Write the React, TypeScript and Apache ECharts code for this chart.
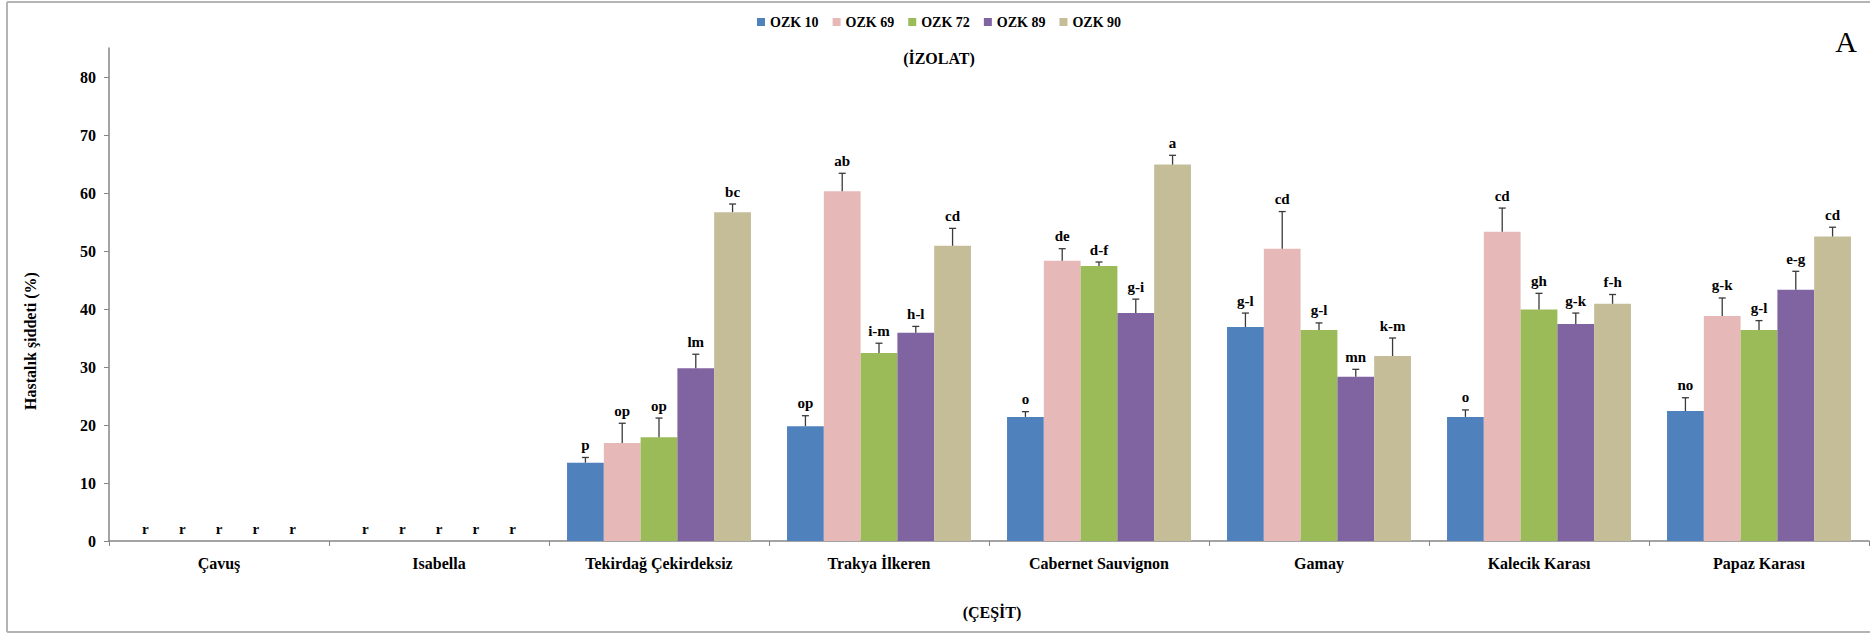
import React, { useEffect, useRef } from "react";
import * as echarts from "echarts";

const FONT = "'Liberation Serif', 'Times New Roman', serif";

const categories = [
  "Çavuş",
  "Isabella",
  "Tekirdağ Çekirdeksiz",
  "Trakya İlkeren",
  "Cabernet Sauvignon",
  "Gamay",
  "Kalecik Karası",
  "Papaz Karası",
];

const seriesNames = ["OZK 10", "OZK 69", "OZK 72", "OZK 89", "OZK 90"];
const colors = ["#4F81BD", "#E6B9B8", "#9BBB59", "#8064A2", "#C4BD97"];

const ozk10 = [0, 0, 13.5, 19.8, 21.4, 36.9, 21.4, 22.4];
const ozk69 = [0, 0, 16.9, 60.3, 48.3, 50.4, 53.3, 38.8];
const ozk72 = [0, 0, 17.9, 32.4, 47.4, 36.4, 39.9, 36.4];
const ozk89 = [0, 0, 29.8, 35.9, 39.3, 28.3, 37.4, 43.3];
const ozk90 = [0, 0, 56.7, 50.9, 64.9, 31.9, 40.9, 52.5];

const err10 = [0, 0, 0.9, 1.8, 0.9, 2.4, 1.2, 2.3];
const err69 = [0, 0, 3.4, 3.1, 2.1, 6.4, 4.1, 3.1];
const err72 = [0, 0, 3.3, 1.7, 0.7, 1.2, 2.8, 1.6];
const err89 = [0, 0, 2.4, 1.1, 2.4, 1.3, 1.9, 3.2];
const err90 = [0, 0, 1.4, 3.0, 1.6, 3.1, 1.6, 1.6];

const lab10 = ["r", "r", "p", "op", "o", "g-l", "o", "no"];
const lab69 = ["r", "r", "op", "ab", "de", "cd", "cd", "g-k"];
const lab72 = ["r", "r", "op", "i-m", "d-f", "g-l", "gh", "g-l"];
const lab89 = ["r", "r", "lm", "h-l", "g-i", "mn", "g-k", "e-g"];
const lab90 = ["r", "r", "bc", "cd", "a", "k-m", "f-h", "cd"];

const yTicks = [0, 10, 20, 30, 40, 50, 60, 70, 80];

const values = [ozk10, ozk69, ozk72, ozk89, ozk90];
const errors = [err10, err69, err72, err89, err90];
const labels = [lab10, lab69, lab72, lab89, lab90];

const CAT_GAP = 0.164;

export default function App() {
  const ref = useRef<HTMLDivElement>(null);

  useEffect(() => {
    document.body.style.margin = "0";
    if (!ref.current) return;
    const chart = echarts.init(ref.current, null, { renderer: "svg" });

    const customData: number[][] = [];
    const customLabels: string[] = [];
    values.forEach((vals, s) => {
      vals.forEach((v, c) => {
        customData.push([c, s, v, errors[s][c]]);
        customLabels.push(labels[s][c]);
      });
    });

    const barSeries = seriesNames.map((name, i) => ({
      name,
      type: "bar",
      data: values[i],
      barGap: "0%",
      barCategoryGap: CAT_GAP * 100 + "%",
      itemStyle: { color: colors[i] },
      z: 2,
    }));

    const borderStyle = { stroke: "#b4b4b4", lineWidth: 2 };

    const option: any = {
      animation: false,
      backgroundColor: "#ffffff",
      textStyle: { fontFamily: FONT },
      legend: {
        data: seriesNames,
        left: 757,
        top: 15,
        padding: 0,
        itemWidth: 8,
        itemHeight: 8,
        itemGap: 14,
        icon: "rect",
        textStyle: { fontFamily: FONT, fontWeight: "bold", fontSize: 14, color: "#000" },
      },
      grid: { left: 109, right: 1, top: 48, bottom: 94, containLabel: false },
      xAxis: {
        type: "category",
        data: categories,
        axisLine: { lineStyle: { color: "#868686", width: 1.5 } },
        axisTick: { show: true, length: 5, lineStyle: { color: "#868686" } },
        axisLabel: {
          interval: 0,
          margin: 14,
          fontFamily: FONT,
          fontWeight: "bold",
          fontSize: 16,
          color: "#000",
        },
      },
      yAxis: {
        type: "value",
        min: 0,
        max: 85,
        interval: 10,
        splitLine: { show: false },
        axisLine: { show: true, lineStyle: { color: "#868686", width: 1.5 } },
        axisTick: { show: true, length: 5, customValues: yTicks, lineStyle: { color: "#868686" } },
        axisLabel: {
          customValues: yTicks,
          margin: 13,
          fontFamily: FONT,
          fontWeight: "bold",
          fontSize: 16,
          color: "#000",
        },
      },
      graphic: [
        { type: "line", shape: { x1: 7, y1: 2, x2: 1870, y2: 2 }, style: borderStyle, silent: true },
        { type: "line", shape: { x1: 7, y1: 2, x2: 7, y2: 632 }, style: borderStyle, silent: true },
        { type: "line", shape: { x1: 7, y1: 632, x2: 1870, y2: 632 }, style: borderStyle, silent: true },
        {
          type: "text",
          x: 30,
          y: 341,
          rotation: Math.PI / 2,
          style: {
            text: "Hastalık şiddeti (%)",
            font: `bold 16px ${FONT}`,
            fill: "#000",
            textAlign: "center",
            textVerticalAlign: "middle",
          },
        },
        {
          type: "text",
          x: 939,
          y: 58,
          style: {
            text: "(İZOLAT)",
            font: `bold 16px ${FONT}`,
            fill: "#000",
            textAlign: "center",
            textVerticalAlign: "middle",
          },
        },
        {
          type: "text",
          x: 992,
          y: 612,
          style: {
            text: "(ÇEŞİT)",
            font: `bold 16px ${FONT}`,
            fill: "#000",
            textAlign: "center",
            textVerticalAlign: "middle",
          },
        },
        {
          type: "text",
          x: 1846,
          y: 41,
          style: {
            text: "A",
            font: `30px ${FONT}`,
            fill: "#000",
            textAlign: "center",
            textVerticalAlign: "middle",
          },
        },
      ],
      series: [
        ...barSeries,
        {
          type: "custom",
          name: "errors",
          data: customData,
          encode: { x: 0, y: 2 },
          z: 5,
          clip: false,
          renderItem: (params: any, api: any) => {
            const c = api.value(0);
            const s = api.value(1);
            const v = api.value(2);
            const e = api.value(3);
            const base = api.coord([c, 0]);
            const bandW = api.size([1, 0])[0];
            const barW = (bandW * (1 - CAT_GAP)) / seriesNames.length;
            const x = base[0] + (s - (seriesNames.length - 1) / 2) * barW;
            const yv = api.coord([c, v])[1];
            const yt = api.coord([c, v + e])[1];
            const children: any[] = [];
            if (e > 0) {
              children.push({
                type: "line",
                shape: { x1: x, y1: yv, x2: x, y2: yt },
                style: { stroke: "#3a3a3a", lineWidth: 1.3 },
              });
              children.push({
                type: "line",
                shape: { x1: x - 3.5, y1: yt, x2: x + 3.5, y2: yt },
                style: { stroke: "#3a3a3a", lineWidth: 1.3 },
              });
            }
            children.push({
              type: "text",
              x: x,
              y: yt - 5,
              style: {
                text: customLabels[params.dataIndex],
                font: `bold 15px ${FONT}`,
                fill: "#000",
                textAlign: "center",
                textVerticalAlign: "bottom",
              },
            });
            return { type: "group", children };
          },
        },
      ],
    };

    chart.setOption(option);
    return () => chart.dispose();
  }, []);

  return <div ref={ref} style={{ width: 1870, height: 635 }} />;
}
